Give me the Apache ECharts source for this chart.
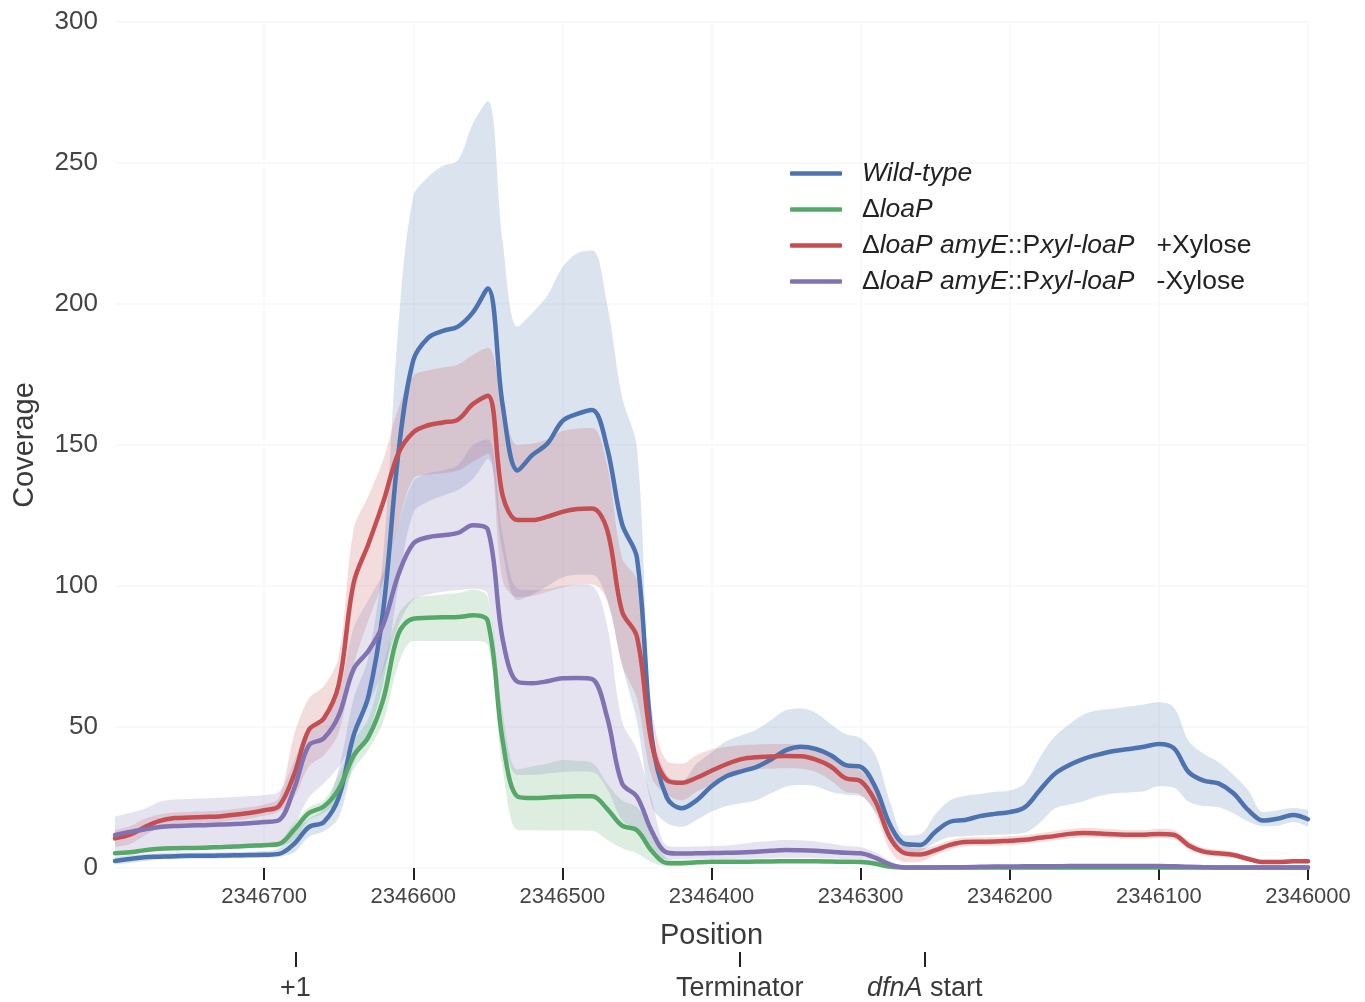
<!DOCTYPE html>
<html><head><meta charset="utf-8">
<script src="https://cdn.jsdelivr.net/npm/echarts@6/dist/echarts.min.js"></script>
<style>html,body{margin:0;padding:0;background:#fff}#c{width:1365px;height:1002px}</style>
</head><body><div id="c"></div>
<script>
const positions = [2346800,2346790,2346780,2346770,2346760,2346750,2346740,2346730,2346720,2346710,
2346700,2346690,2346680,2346670,2346660,2346650,2346640,2346630,2346620,2346610,
2346600,2346590,2346580,2346570,2346560,2346550,2346540,2346530,2346520,2346510,
2346500,2346490,2346480,2346470,2346460,2346450,2346440,2346430,2346420,2346410,
2346400,2346390,2346380,2346370,2346360,2346350,2346340,2346330,2346320,2346310,
2346300,2346290,2346280,2346270,2346260,2346250,2346240,2346230,2346220,2346210,
2346200,2346190,2346180,2346170,2346160,2346150,2346140,2346130,2346120,2346110,
2346100,2346090,2346080,2346070,2346060,2346050,2346040,2346030,2346020,2346010,
2346000];

// Wild-type
const wtMean = [2.5,3.2,3.8,4.0,4.2,4.3,4.3,4.4,4.5,4.6,
4.7,5.0,8.5,14.5,16.3,25,47,61,92,147,
180,188,190.5,192,197,205.5,164,141,146.5,150.5,
158.5,161,162.4,149,122,110,46,25,21.2,24,
29,32.5,34.3,35.8,38.5,41.8,43,42.2,40,36.5,
35.9,28.5,15,8.5,8.2,12.8,16.4,17,18.4,19.2,
19.8,21.5,27.5,33.3,36.5,38.8,40.3,41.5,42.2,43,
44,42.5,34,31,30,26.5,20.5,16.8,17.5,18.8,
17.3];
const wtLo = [1.2,1.8,2.5,3.0,3.2,3.3,3.3,3.4,3.5,3.5,
3.6,4.0,5.5,11,13,18,37,48,66,100,
126,130,132,134,138,145,112,95,97,100,
103,104,104,95,72,52,22,16,14.6,17,
20,22,23,24,26.5,28.8,29.4,29,27,26,
25.5,20,9,5.2,5.8,9,11,11.3,11.6,11.8,
12,12.5,16,21,22.5,23.8,25.5,26.5,26.8,27.2,
29,28.5,23.5,22,21.5,19.4,16.5,14.8,15,16.3,
14.6];
const wtHi = [4.0,4.6,5.0,5.3,5.5,5.5,5.5,5.6,5.7,5.8,
6.0,7.0,13,17.5,21,35,60,75,112,192,
238,245,249,251,264,272,222,192,197,203,
213,218,219,200,167,149,50,33,31,37,
41,45,47,49,52.5,56,56.6,55,51,47.5,
46,40,23,11.5,12,19,24,25.5,26.2,27,
27.5,30,39,46.5,51,54.5,56,56.6,57.3,58,
58.8,57,45,40.5,37.5,33,27.5,19.8,20.5,21.3,
20.6];

// ΔloaP
const dlMean = [5.2,5.6,6.3,6.8,7.0,7.1,7.2,7.4,7.6,7.9,
8.1,8.5,13.5,19.5,21.8,28,39.8,46.5,60,83,
88.4,88.7,88.9,89,89.6,87.5,45,25.3,24.8,25,
25.3,25.4,25.4,21,15,13.4,6,1.8,1.7,2.0,
2.2,2.2,2.2,2.3,2.3,2.4,2.4,2.4,2.3,2.2,
2.1,1.5,0.4,0.2,0.2,0.2,0.2,0.2,0.2,0.2,
0.2,0.2,0.2,0.2,0.2,0.2,0.2,0.2,0.2,0.2,
0.2,0.2,0.2,0.2,0.2,0.2,0.2,0.2,0.2,0.2,
0.2];
const dlLo = [4.5,4.9,5.6,6.1,6.3,6.4,6.5,6.7,6.9,7.2,
7.4,7.7,10,17,19.5,24,35,42,52,72,
80.5,80.5,80.5,80.5,80.5,79,35,13.5,13.4,13.3,
13.3,13.3,13.2,10,7,5.2,2,0.6,0.8,1.3,
1.6,1.6,1.6,1.7,1.7,1.8,1.8,1.8,1.7,1.6,
1.5,0.8,0,0,0,0,0,0,0,0,
0,0,0,0,0,0,0,0,0,0,
0,0,0,0,0,0,0,0,0,0,
0];
const dlHi = [6.0,6.3,7.0,7.5,7.7,7.8,7.9,8.1,8.3,8.6,
8.8,9.5,16,21.5,24,33,45,53,72,90,
95.5,96.5,97,97.5,98.8,96,55,35,36,37,
38.3,38,37.2,30,24,21.5,14,3.5,2.8,2.7,
2.8,2.8,2.8,2.9,2.9,3.0,3.0,3.0,2.9,2.8,
2.7,2.2,0.9,0.5,0.5,0.5,0.5,0.5,0.5,0.5,
0.5,0.5,0.5,0.5,0.5,0.5,0.5,0.5,0.5,0.5,
0.5,0.5,0.5,0.5,0.5,0.5,0.5,0.5,0.5,0.5,
0.5];

// ΔloaP amyE::Pxyl-loaP +Xylose
const pxMean = [10.5,11.8,14.5,16.7,17.7,17.9,18.1,18.3,18.9,19.5,
20.5,22,33,49,53,65,101,115,130,147,
154.5,157,158,159,164.5,167.5,132,123.4,123.4,124.6,
126.3,127.3,127.5,120,91,82,44,31.2,30.2,32,
34.5,36.8,38.6,39.3,39.5,39.7,39.6,38.4,36,31.8,
30.8,23.5,10.5,5.2,4.8,6.3,8.2,9.2,9.3,9.4,
9.7,10,10.7,11.3,12.1,12.4,12.2,12,11.8,11.8,
12.1,11.8,8,5.8,5.2,4.6,3.2,2.1,2.1,2.4,
2.4];
const pxLo = [7.5,8.5,11.5,14.5,15.7,15.9,16.1,16.3,16.9,17.5,
18.5,20,25,36,40,48,72,88,102,122,
138,139.5,140,141,144,147,102,96,96.5,98,
99.5,100.5,100.5,95,72,60,32,26,24,27,
29.5,32,34,35,35.3,35.4,35.2,34,31,27,
26,19,6,2,2.2,4.5,6.6,7.6,7.8,7.9,
8.2,8.5,9.2,9.8,10.5,10.8,10.7,10.5,10.3,10.3,
10.6,10.2,6.6,4.6,4.1,3.6,2.3,1.3,1.4,1.7,
1.7];
const pxHi = [13.5,14.8,17.5,19,19.7,19.9,20.1,20.3,20.9,21.5,
22.5,25,47,60,64.5,75,120,132,145,163,
174.5,176.5,177.5,178.5,182,184.5,165,150,150.5,152,
155,155.8,156,143,110,102,56,38,37,40,
42,43,43.5,43.8,44,44,43.5,42.3,39.5,36,
34.5,28,14,8,7,8,9.8,10.8,10.9,11,
11.3,11.6,12.3,13,13.8,14.2,14,13.7,13.4,13.4,
13.8,13.5,9.6,7.1,6.4,5.7,4.2,2.9,2.9,3.2,
3.1];

// ΔloaP amyE::Pxyl-loaP -Xylose
const nxMean = [11.7,12.8,13.7,14.5,14.9,15.1,15.2,15.4,15.6,15.9,
16.3,17,28,43.5,46,54,70.5,77,86.5,104,
115,117.3,118,118.8,121.5,120,81,66,65.5,66.2,
67.3,67.4,67,53.5,30,25.3,13,5.5,5.1,5.2,
5.3,5.4,5.5,5.8,6.1,6.4,6.3,6.1,5.8,5.4,
5.2,3.6,1.2,0.2,0.2,0.2,0.3,0.3,0.4,0.5,
0.5,0.6,0.6,0.6,0.7,0.7,0.7,0.7,0.7,0.7,
0.7,0.6,0.4,0.3,0.2,0.2,0.2,0.2,0.2,0.2,
0.2];
const nxLo = [5,5.5,6,6.5,6.7,7,7.1,7.2,7.3,7.4,
7.5,8,15,25,30,36,45,58,70,86,
95,97,98,98.5,99,97,48,33,33,33.5,
34,34.2,34,28,17,13,5,3,3,3,
3.2,3.2,3.3,3.4,3.5,3.6,3.6,3.5,3.4,3.2,
3,2,0.3,0,0,0,0,0,0,0,
0,0,0,0,0,0,0,0,0,0,
0,0,0,0,0,0,0,0,0,0,
0];
const nxHi = [18.2,19.5,21,23.5,24.3,24.5,24.7,24.9,25.2,25.5,
25.9,27,38,50,53,62,85,95,105,122,
137,140,141,143,150,152,118,99,98.5,99,
100,100.5,100,86,52,42,24,8,7.5,7.6,
7.8,8,8.5,9.2,9.6,9.9,9.8,9.4,8.7,7.8,
7.4,5.5,2.4,0.6,0.6,0.7,0.8,0.9,1.0,1.1,
1.1,1.2,1.2,1.2,1.3,1.3,1.3,1.3,1.3,1.3,
1.3,1.2,1.0,0.8,0.6,0.6,0.6,0.6,0.6,0.6,
0.6];

const seriesNames = ['Wild-type','ΔloaP','ΔloaP amyE::Pxyl-loaP +Xylose','ΔloaP amyE::Pxyl-loaP -Xylose'];
const legendLabels = [
  '{sp|}{i|Wild-type}',
  '{sp|}{n|Δ}{i|loaP}',
  '{sp|}{n|Δ}{i|loaP amyE}{n|::P}{i|xyl-loaP}{n|   +Xylose}',
  '{sp|}{n|Δ}{i|loaP amyE}{n|::P}{i|xyl-loaP}{n|   -Xylose}'
];
const colors = ['#4C72B0','#55A868','#C44E52','#8172B2'];
const xTickValues = [2346700,2346600,2346500,2346400,2346300,2346200,2346100,2346000];
const annotPositions = [2346679,2346381,2346257];
const annotLabels = ['{n|+1}','{n|Terminator}','{i|dfnA}{n| start}'];

const FONT = '"Liberation Sans", Arial, Helvetica, sans-serif';
const groups = [
  {mean: wtMean, lo: wtLo, hi: wtHi},
  {mean: dlMean, lo: dlLo, hi: dlHi},
  {mean: pxMean, lo: pxLo, hi: pxHi},
  {mean: nxMean, lo: nxLo, hi: nxHi}
];
const SM = 0.35;
const series = [];
groups.forEach((g, i) => {
  const st = 'band' + i;
  // value first, position second so that the stacked dimension is the y value
  series.push({type:'line', name: seriesNames[i] + ' lower', stack: st, silent: true,
    encode: {x: 1, y: 0},
    data: positions.map((p, j) => [g.lo[j], p]), symbol: 'none', smooth: SM,
    lineStyle: {opacity: 0}, emphasis: {disabled: true}});
  series.push({type:'line', name: seriesNames[i] + ' band', stack: st, silent: true,
    encode: {x: 1, y: 0},
    data: positions.map((p, j) => [g.hi[j] - g.lo[j], p]), symbol: 'none', smooth: SM,
    lineStyle: {opacity: 0}, areaStyle: {color: colors[i], opacity: 0.2}, emphasis: {disabled: true}});
  series.push({type:'line', name: seriesNames[i],
    data: positions.map((p, j) => [p, g.mean[j]]), symbol: 'none', smooth: SM,
    lineStyle: {color: colors[i], width: 4.5, cap: 'round'}, itemStyle: {color: colors[i]},
    emphasis: {disabled: true}});
});

const richLegend = {
  sp: {width: 15, lineHeight: 26},
  i: {fontStyle: 'italic', fontSize: 26.5, lineHeight: 26, color: '#222', fontFamily: FONT},
  n: {fontSize: 26.5, lineHeight: 26, color: '#222', fontFamily: FONT}
};

const chart = echarts.init(document.getElementById('c'), null, {renderer: 'canvas'});
chart.setOption({
  animation: false,
  backgroundColor: '#ffffff',
  grid: {left: 115, right: 57, top: 22, bottom: 134, containLabel: false},
  legend: {
    orient: 'vertical', left: 790, top: 160, padding: 0, itemGap: 9,
    itemWidth: 52, itemHeight: 4.5, icon: 'roundRect',
    data: seriesNames,
    formatter: name => legendLabels[seriesNames.indexOf(name)],
    textStyle: {
      fontSize: 26.5, lineHeight: 26, color: '#222', fontFamily: FONT,
      rich: richLegend
    }
  },
  xAxis: [{
    type: 'value', min: 2346000, max: 2346800, interval: 100, inverse: true,
    offset: 3,
    name: 'Position', nameLocation: 'middle', nameGap: 50,
    nameTextStyle: {fontSize: 29, color: '#3a3a3a', fontFamily: FONT},
    axisLine: {show: false},
    axisTick: {show: true, length: 12, customValues: xTickValues, lineStyle: {color: '#222', width: 2}},
    axisLabel: {customValues: xTickValues, margin: 15, fontSize: 22, color: '#444', fontFamily: FONT,
      formatter: v => String(v)},
    splitLine: {show: true, lineStyle: {color: '#f7f7fa', width: 1.5}}
  }, {
    type: 'value', min: 2346000, max: 2346800, inverse: true, position: 'bottom',
    offset: 84,
    axisLine: {show: false},
    axisTick: {show: true, length: 15, customValues: annotPositions, lineStyle: {color: '#222', width: 2}},
    axisLabel: {customValues: annotPositions, margin: 23, fontSize: 27, color: '#3a3a3a', fontFamily: FONT,
      formatter: v => annotLabels[annotPositions.indexOf(v)] || '',
      rich: {
        i: {fontStyle: 'italic', fontSize: 27, color: '#3a3a3a', fontFamily: FONT},
        n: {fontSize: 27, color: '#3a3a3a', fontFamily: FONT}
      }},
    splitLine: {show: false}
  }],
  yAxis: {
    type: 'value', min: 0, max: 300, interval: 50,
    name: 'Coverage', nameLocation: 'middle', nameGap: 76,
    nameTextStyle: {fontSize: 29, color: '#3a3a3a', fontFamily: FONT},
    axisLine: {show: false}, axisTick: {show: false},
    axisLabel: {margin: 17, fontSize: 26, color: '#444', fontFamily: FONT},
    splitLine: {show: true, lineStyle: {color: '#f7f7fa', width: 1.5}}
  },
  series: series
});
</script></body></html>
